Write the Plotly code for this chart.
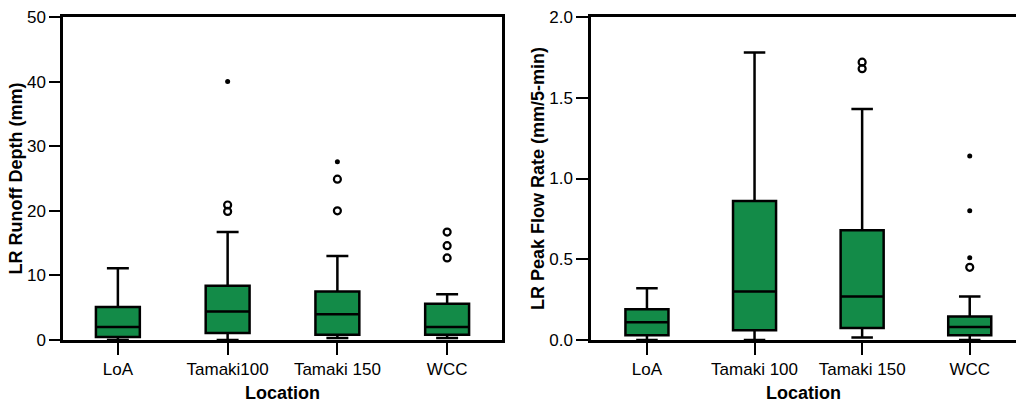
import plotly.graph_objects as go

categories_left = ["LoA", "Tamaki100", "Tamaki 150", "WCC"]
categories_right = ["LoA", "Tamaki 100", "Tamaki 150", "WCC"]

# Runoff depth (mm)
depth_q1 = [0.45, 1.1, 0.8, 0.8]
depth_median = [2.0, 4.4, 4.0, 2.0]
depth_q3 = [5.1, 8.4, 7.5, 5.6]
depth_low = [0.0, 0.0, 0.3, 0.3]
depth_high = [11.1, 16.7, 13.0, 7.1]
depth_out_x = [1, 1, 2, 2, 3, 3, 3]
depth_out_y = [19.9, 20.9, 20.0, 24.9, 12.7, 14.6, 16.7]
depth_ext_x = [1, 2]
depth_ext_y = [40.0, 27.6]

# Peak flow rate (mm/5-min)
peak_q1 = [0.03, 0.06, 0.075, 0.03]
peak_median = [0.11, 0.30, 0.27, 0.08]
peak_q3 = [0.19, 0.86, 0.68, 0.145]
peak_low = [0.0, 0.0, 0.015, 0.0]
peak_high = [0.32, 1.78, 1.43, 0.27]
peak_out_x = [2, 2, 3]
peak_out_y = [1.68, 1.72, 0.45]
peak_ext_x = [3, 3, 3]
peak_ext_y = [0.51, 0.80, 1.14]

FILL = "#138b48"
FONT = "Liberation Sans, Arial, sans-serif"

fig = go.Figure()

def add_panel(xa, ya, q1, med, q3, lo, hi, ox, oy, ex, ey):
    fig.add_trace(go.Box(
        x=[0, 1, 2, 3], q1=q1, median=med, q3=q3,
        lowerfence=lo, upperfence=hi,
        width=0.4, whiskerwidth=0.5, fillcolor=FILL,
        line=dict(color="black", width=2.5), boxpoints=False,
        xaxis=xa, yaxis=ya, showlegend=False, hoverinfo="skip"))
    fig.add_trace(go.Scatter(
        x=ox, y=oy, mode="markers", xaxis=xa, yaxis=ya, showlegend=False,
        cliponaxis=False,
        marker=dict(symbol="circle-open", size=7, color="black",
                    line=dict(color="black", width=2.2))))
    fig.add_trace(go.Scatter(
        x=ex, y=ey, mode="markers", xaxis=xa, yaxis=ya, showlegend=False,
        cliponaxis=False,
        marker=dict(symbol="circle", size=5, color="black")))

add_panel("x", "y", depth_q1, depth_median, depth_q3, depth_low, depth_high,
          depth_out_x, depth_out_y, depth_ext_x, depth_ext_y)
add_panel("x2", "y2", peak_q1, peak_median, peak_q3, peak_low, peak_high,
          peak_out_x, peak_out_y, peak_ext_x, peak_ext_y)

axis_common = dict(showline=True, linecolor="black", linewidth=2.5,
                   ticks="outside", tickcolor="black", tickwidth=2,
                   showgrid=False, zeroline=False, automargin=False,
                   tickfont=dict(family=FONT, size=17, color="black"))

ydom = [1 - 340 / 403, 1 - 17 / 403]
xtitle = dict(text="<b>Location</b>", font=dict(family=FONT, size=18), standoff=13)

fig.update_layout(
    width=1016, height=403,
    margin=dict(l=0, r=0, t=0, b=0, autoexpand=False),
    paper_bgcolor="white", plot_bgcolor="white",
    font=dict(family=FONT, color="black"),
    xaxis=dict(domain=[63 / 1016, 502 / 1016], range=[-0.5, 3.5],
               tickvals=[0, 1, 2, 3], ticktext=categories_left,
               ticklen=12, mirror=True, anchor="y", title=xtitle,
               **axis_common),
    yaxis=dict(domain=ydom, range=[0, 50], tickvals=[0, 10, 20, 30, 40, 50],
               ticklen=11, mirror=True, anchor="x",
               title=dict(text="<b>LR Runoff Depth (mm)</b>", font=dict(family=FONT, size=18), standoff=0),
               **axis_common),
    xaxis2=dict(domain=[591 / 1016, 1.0], range=[-0.52, 3.43],
                tickvals=[0, 1, 2, 3], ticktext=categories_right,
                ticklen=12, mirror=True, anchor="y2", title=xtitle,
                **axis_common),
    yaxis2=dict(domain=ydom, range=[0, 2.0], tickvals=[0, 0.5, 1.0, 1.5, 2.0],
                tickformat=".1f", ticklen=12, anchor="x2",
                title=dict(text="<b>LR Peak Flow Rate (mm/5-min)</b>", font=dict(family=FONT, size=18), standoff=0),
                **axis_common),
)

fig.write_html("out.html", config={"displayModeBar": False},
               post_script="document.body.style.margin='0';document.body.style.padding='0';")
